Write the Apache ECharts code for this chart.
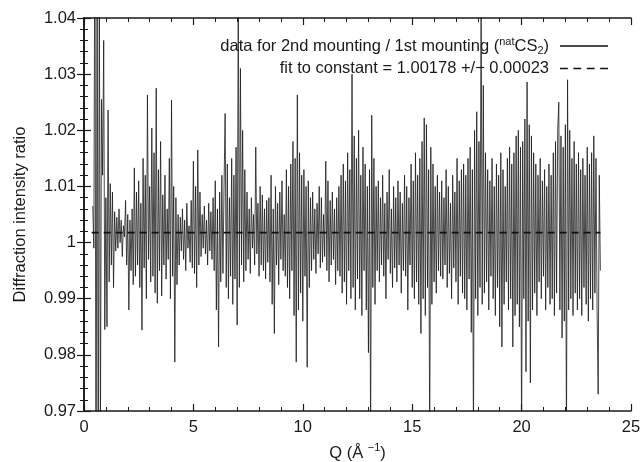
<!DOCTYPE html>
<html>
<head>
<meta charset="utf-8">
<script src="https://cdn.jsdelivr.net/npm/echarts@6/dist/echarts.min.js"></script>
<style>
html,body{margin:0;padding:0;background:#fff;}
#chart{width:641px;height:462px;}
</style>
</head>
<body>
<div id="chart"></div>
<script>
// Q grid (Å^-1) of the measured ratio
var qStart = 0.40;
var qStep = 0.05;
// diffraction intensity ratio, 2nd mounting / 1st mounting
var ratioValues = [
1.0065,0.9990,1.0650,0.9400,1.0600,0.9500,1.0500,0.9650,1.0255,1.0120,1.0360,0.9845,1.0080,0.9850,1.0236,0.9930,1.0105,0.9960,1.0090,0.9920,
1.0055,0.9985,1.0045,0.9990,1.0060,1.0000,1.0040,0.9975,1.0030,1.0010,1.0075,0.9960,1.0050,0.9880,1.0040,0.9950,1.0060,0.9925,1.0133,0.9940,
1.0090,0.9960,1.0110,0.9920,1.0070,0.9844,1.0150,0.9955,1.0120,0.9900,1.0263,0.9970,1.0100,0.9930,1.0204,0.9940,1.0160,0.9910,1.0275,0.9892,
1.0130,0.9950,1.0180,0.9905,1.0085,0.9960,1.0120,0.9935,1.0060,0.9970,1.0150,0.9900,1.0254,0.9940,1.0100,0.9787,1.0080,0.9925,1.0050,0.9960,
1.0045,0.9985,1.0060,0.9970,1.0040,0.9950,1.0070,0.9990,1.0030,0.9965,1.0075,0.9955,1.0145,0.9945,1.0100,0.9920,1.0165,0.9960,1.0090,0.9975,
1.0050,0.9990,1.0065,0.9980,1.0040,0.9960,1.0070,0.9985,1.0055,0.9970,1.0080,0.9950,1.0110,0.9880,1.0060,0.9814,1.0090,0.9930,1.0120,0.9945,
1.0100,1.0230,0.9920,1.0140,0.9900,1.0080,0.9940,1.0150,0.9890,1.0120,0.9935,1.0170,0.9853,1.0450,0.9920,1.0310,0.9960,1.0200,0.9930,1.0130,
0.9950,1.0090,0.9970,1.0060,0.9945,1.0080,0.9990,1.0050,0.9960,1.0170,0.9980,1.0070,0.9940,1.0100,0.9960,1.0085,0.9950,1.0060,0.9935,1.0075,
0.9965,1.0080,0.9930,1.0120,0.9890,1.0060,0.9838,1.0100,0.9960,1.0070,0.9925,1.0090,0.9970,1.0110,0.9950,1.0050,0.9940,1.0130,0.9920,1.0100,
0.9900,1.0140,0.9950,1.0180,0.9870,1.0150,0.9787,1.0263,0.9880,1.0160,0.9910,1.0120,0.9860,1.0130,0.9940,1.0100,0.9778,1.0110,0.9920,1.0080,
0.9950,1.0090,0.9970,1.0060,0.9945,1.0070,0.9980,1.0100,0.9955,1.0080,0.9965,1.0050,0.9975,1.0145,0.9950,1.0110,0.9930,1.0075,0.9960,1.0090,
0.9970,1.0060,0.9925,1.0080,0.9950,1.0100,0.9940,1.0120,0.9910,1.0140,0.9930,1.0110,0.9890,1.0160,0.9950,1.0130,0.9900,1.0300,0.9920,1.0190,
0.9880,1.0150,0.9935,1.0200,0.9900,1.0120,0.9870,1.0170,0.9950,1.0140,0.9880,1.0100,0.9804,1.0130,0.9650,1.0227,0.9920,1.0150,0.9890,1.0100,
0.9950,1.0110,0.9930,1.0080,0.9960,1.0120,0.9940,1.0070,0.9900,1.0090,0.9970,1.0130,0.9945,1.0060,0.9920,1.0100,0.9955,1.0080,0.9930,1.0110,
0.9960,1.0090,0.9910,1.0070,0.9950,1.0120,0.9940,1.0100,0.9880,1.0080,0.9960,1.0140,0.9920,1.0110,0.9900,1.0160,0.9930,1.0120,0.9890,1.0150,
0.9838,1.0180,0.9900,1.0222,0.9870,1.0210,0.9920,1.0130,0.9650,1.0170,0.9890,1.0140,0.9930,1.0100,0.9910,1.0120,0.9950,1.0090,0.9940,1.0110,
0.9935,1.0080,0.9960,1.0130,0.9920,1.0100,0.9945,1.0070,0.9900,1.0120,0.9955,1.0090,0.9930,1.0150,0.9890,1.0110,0.9940,1.0130,0.9910,1.0140,
0.9900,1.0120,0.9880,1.0150,0.9935,1.0170,0.9840,1.0130,0.9650,1.0200,0.9900,1.0233,0.9870,1.0180,0.9920,1.0450,0.9890,1.0280,0.9910,1.0160,
0.9930,1.0130,0.9880,1.0110,0.9940,1.0150,0.9900,1.0100,0.9870,1.0140,0.9920,1.0120,0.9850,1.0160,0.9814,1.0130,0.9890,1.0100,0.9930,1.0150,
0.9880,1.0170,0.9900,1.0140,0.9814,1.0160,0.9870,1.0190,0.9890,1.0200,0.9850,1.0170,0.9650,1.0180,0.9900,1.0220,0.9770,1.0286,0.9860,1.0210,
0.9750,1.0190,0.9880,1.0160,0.9910,1.0140,0.9870,1.0120,0.9930,1.0150,0.9900,1.0110,0.9940,1.0130,0.9880,1.0100,0.9920,1.0140,0.9890,1.0120,
0.9900,1.0160,0.9870,1.0180,0.9910,1.0200,1.0250,0.9880,1.0190,0.9830,1.0170,0.9860,1.0210,0.9650,1.0290,0.9880,1.0200,0.9900,1.0150,0.9870,
1.0180,0.9910,1.0140,0.9880,1.0160,0.9900,1.0130,0.9870,1.0150,0.9920,1.0120,0.9890,1.0170,0.9860,1.0140,0.9900,1.0160,0.9880,1.0190,0.9910,
1.0150,0.9880,0.9730,1.0120,0.9950
];
// fit to constant
var fitValue = 1.00178;
var fitRange = [0.35, 23.6];
var xTicks = [0, 5, 10, 15, 20, 25];
var yTicks = [0.97, 0.98, 0.99, 1.00, 1.01, 1.02, 1.03, 1.04];

var dataPts = ratioValues.map(function (v, i) { return [+(qStart + i * qStep).toFixed(3), v]; });
var fitPts = fitRange.map(function (q) { return [q, fitValue]; });

var FONT = '"Liberation Sans", Arial, sans-serif';
var FS = 16.5;
var axisColor = '#1a1a1a';

// legend icons: solid line and dashed line
var solidIcon = 'path://M0,0H48V1.4H0Z';
var dashedIcon = 'path://M0,0H7V1.6H0Z M12,0H19V1.6H12Z M24,0H31V1.6H24Z M36,0H43V1.6H36Z';

function baseAxis(extra) {
  var a = {
    type: 'value',
    axisLine: { show: true, lineStyle: { color: axisColor, width: 1.6 } },
    axisTick: { show: true, inside: true, length: 7, lineStyle: { color: axisColor, width: 1.2 } },
    minorTick: { show: true, splitNumber: 5, length: 4, lineStyle: { color: axisColor, width: 1 } },
    splitLine: { show: false },
    minorSplitLine: { show: false }
  };
  for (var k in extra) a[k] = extra[k];
  return a;
}

var chart = echarts.init(document.getElementById('chart'), null, { renderer: 'canvas' });
var option = {
  animation: false,
  backgroundColor: '#fff',
  textStyle: { fontFamily: FONT },
  grid: { left: 84, right: 10, top: 18, bottom: 51, containLabel: false, outerBoundsMode: 'none' },
  legend: {
    orient: 'vertical',
    right: 28,
    top: 31,
    align: 'right',
    itemWidth: 48,
    itemHeight: 1.6,
    itemGap: 4,
    symbolKeepAspect: false,
    textStyle: {
      fontFamily: FONT, fontSize: FS, color: '#1a1a1a',
      padding: [0, 6, 0, 0],
      rich: {
        n: { fontFamily: FONT, fontSize: FS, color: '#1a1a1a', lineHeight: 20, verticalAlign: 'middle' },
        sup: { fontFamily: FONT, fontSize: 11, color: '#1a1a1a', lineHeight: 20, verticalAlign: 'top' },
        sub: { fontFamily: FONT, fontSize: 11, color: '#1a1a1a', lineHeight: 20, verticalAlign: 'bottom' }
      }
    },
    formatter: function (name) {
      if (name === 'data') return '{n|data for 2nd mounting / 1st mounting (}{sup|nat}{n|CS}{sub|2}{n|)}';
      return '{n|fit to constant = 1.00178 +/\u2212 0.00023}';
    },
    data: [
      { name: 'data', icon: solidIcon, itemStyle: { color: '#111' } },
      { name: 'fit', icon: dashedIcon, itemStyle: { color: '#111' } }
    ]
  },
  xAxis: [
    baseAxis({
      min: xTicks[0], max: xTicks[xTicks.length - 1], interval: 5, position: 'bottom',
      axisLabel: { fontSize: FS, color: '#1a1a1a', margin: 8, fontFamily: FONT },
      name: '{n|Q (\u00c5 }{sup|\u22121}{n|)}',
      nameLocation: 'middle', nameGap: 31,
      nameTextStyle: {
        fontFamily: FONT, fontSize: FS, color: '#1a1a1a',
        rich: {
          n: { fontFamily: FONT, fontSize: FS, color: '#1a1a1a', lineHeight: 22, verticalAlign: 'middle' },
          sup: { fontFamily: FONT, fontSize: 11, color: '#1a1a1a', lineHeight: 22, verticalAlign: 'top' }
        }
      }
    }),
    baseAxis({
      min: xTicks[0], max: xTicks[xTicks.length - 1], interval: 5, position: 'top',
      axisLabel: { show: false }
    })
  ],
  yAxis: [
    baseAxis({
      min: yTicks[0], max: yTicks[yTicks.length - 1], interval: 0.01, position: 'left',
      axisLabel: {
        fontSize: FS, color: '#1a1a1a', margin: 8, fontFamily: FONT,
        formatter: function (v) { return String(parseFloat(v.toFixed(2))); }
      },
      name: 'Diffraction intensity ratio',
      nameLocation: 'middle', nameGap: 55,
      nameTextStyle: { fontFamily: FONT, fontSize: FS, color: '#1a1a1a' }
    }),
    baseAxis({
      min: yTicks[0], max: yTicks[yTicks.length - 1], interval: 0.01, position: 'right',
      axisLabel: { show: false }
    })
  ],
  series: [
    {
      name: 'data', type: 'line', data: dataPts, xAxisIndex: 0, yAxisIndex: 0,
      showSymbol: false, symbol: 'none', clip: true,
      lineStyle: { color: '#1a1a1a', width: 0.8 },
      itemStyle: { color: '#1a1a1a' }
    },
    {
      name: 'fit', type: 'line', data: fitPts, xAxisIndex: 0, yAxisIndex: 0,
      showSymbol: false, symbol: 'none', clip: true,
      lineStyle: { color: '#111', width: 1.6, type: [7, 5] },
      itemStyle: { color: '#111' },
      z: 3
    }
  ]
};
chart.setOption(option);
</script>
</body>
</html>
